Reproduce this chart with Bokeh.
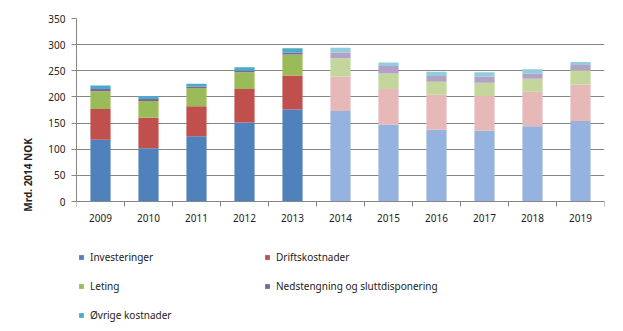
import numpy as np
from bokeh.plotting import figure
from bokeh.models import ColumnDataSource, Legend, LegendItem, FixedTicker, Range1d, Title
from bokeh.embed import file_html
from bokeh.resources import INLINE

years = ["2009", "2010", "2011", "2012", "2013", "2014", "2015", "2016", "2017", "2018", "2019"]
investeringer = [118, 102, 125, 151, 176, 173, 147, 137, 136, 144, 154]
driftskostnader = [59, 58, 57, 64, 65, 66, 68, 67, 66, 66, 70]
leting = [34, 32, 35, 32, 40, 35, 30, 25, 25, 25, 27]
nedstengning = [4, 4, 3, 3, 4, 11, 14, 11, 12, 10, 10]
ovrige = [7, 6, 5, 7, 8, 9, 7, 8, 8, 8, 6]
last_actual = "2013"
y_label = "Mrd. 2014 NOK"

names = ["Investeringer", "Driftskostnader", "Leting", "Nedstengning og sluttdisponering", "Øvrige kostnader"]
series = [investeringer, driftskostnader, leting, nedstengning, ovrige]
dark = ["#4F81BD", "#C0504D", "#9BBB59", "#8064A2", "#4BACC6"]
light = ["#95B3DE", "#E6B9B8", "#C3D69B", "#B3A2C7", "#93CDDD"]

FONT = "Noto Sans"
idx = list(range(len(years)))
hist = [y <= last_actual for y in years]

# layout: value axis 0..350 spans 183 px; frame continues 130 px below zero for the legend
Y_MAX = 350
y_start = -Y_MAX * 130 / 183

p = figure(width=623, height=331, output_backend="svg", toolbar_location=None,
           x_range=Range1d(-0.5, len(years) - 0.5), y_range=Range1d(y_start, Y_MAX),
           min_border_left=76, min_border_right=19, min_border_top=18, min_border_bottom=0)
p.outline_line_color = None
p.background_fill_color = "white"
p.border_fill_color = "white"

bottom = np.zeros(len(years))
renderers = []
for name, vals, dc, lc in zip(names, series, dark, light):
    top = bottom + np.array(vals, dtype=float)
    cols = [dc if h else lc for h in hist]
    src = ColumnDataSource(dict(x=idx, bottom=bottom.copy(), top=top, color=cols))
    r = p.vbar(x="x", bottom="bottom", top="top", width=0.42, fill_color="color",
               line_color=None, source=src)
    renderers.append(r)
    bottom = top

# axes
p.xaxis.fixed_location = 0
p.xaxis.ticker = FixedTicker(ticks=idx, minor_ticks=[i - 0.5 for i in range(len(years) + 1)])
p.xaxis.major_label_overrides = {i: y for i, y in enumerate(years)}
p.xaxis.major_tick_line_color = None
p.xaxis.minor_tick_line_color = "#868686"
p.xaxis.minor_tick_out = 5
p.xaxis.minor_tick_in = 0
p.xaxis.axis_line_color = "#868686"
p.xaxis.major_label_text_font = FONT
p.xaxis.major_label_text_font_size = "10px"
p.xaxis.major_label_text_color = "#222222"
p.xaxis.major_label_standoff = 6

p.yaxis.bounds = (0, Y_MAX)
p.yaxis.ticker = FixedTicker(ticks=list(range(0, Y_MAX + 1, 50)))
p.yaxis.axis_line_color = "#868686"
p.yaxis.major_tick_line_color = "#868686"
p.yaxis.major_tick_out = 5
p.yaxis.major_tick_in = 0
p.yaxis.minor_tick_line_color = None
p.yaxis.major_label_text_font = FONT
p.yaxis.major_label_text_font_size = "10px"
p.yaxis.major_label_text_color = "#222222"
p.yaxis.major_label_standoff = 6

ytitle = Title(text=y_label, align="center", offset=46, standoff=21,
               text_font=FONT, text_font_size="10px", text_font_style="bold",
               text_color="#222222")
p.add_layout(ytitle, "left")

p.xgrid.grid_line_color = None
p.ygrid.grid_line_color = "#868686"
p.ygrid.grid_line_width = 1

def make_legend(items, loc):
    return Legend(items=items, location=loc, orientation="vertical",
                  glyph_width=6, glyph_height=6, label_height=10, spacing=15,
                  label_standoff=6, padding=0, margin=0,
                  border_line_color=None, background_fill_alpha=0,
                  label_text_font=FONT, label_text_font_size="10px",
                  label_text_color="#222222")

leg1 = make_legend([LegendItem(label=names[i], renderers=[renderers[i]], index=0) for i in (0, 2, 4)], (2, 9))
leg2 = make_legend([LegendItem(label=names[i], renderers=[renderers[i]], index=0) for i in (1, 3)], (188, 38))
p.add_layout(leg1, "center")
p.add_layout(leg2, "center")

open("out.html", "w").write(file_html(p, INLINE))
